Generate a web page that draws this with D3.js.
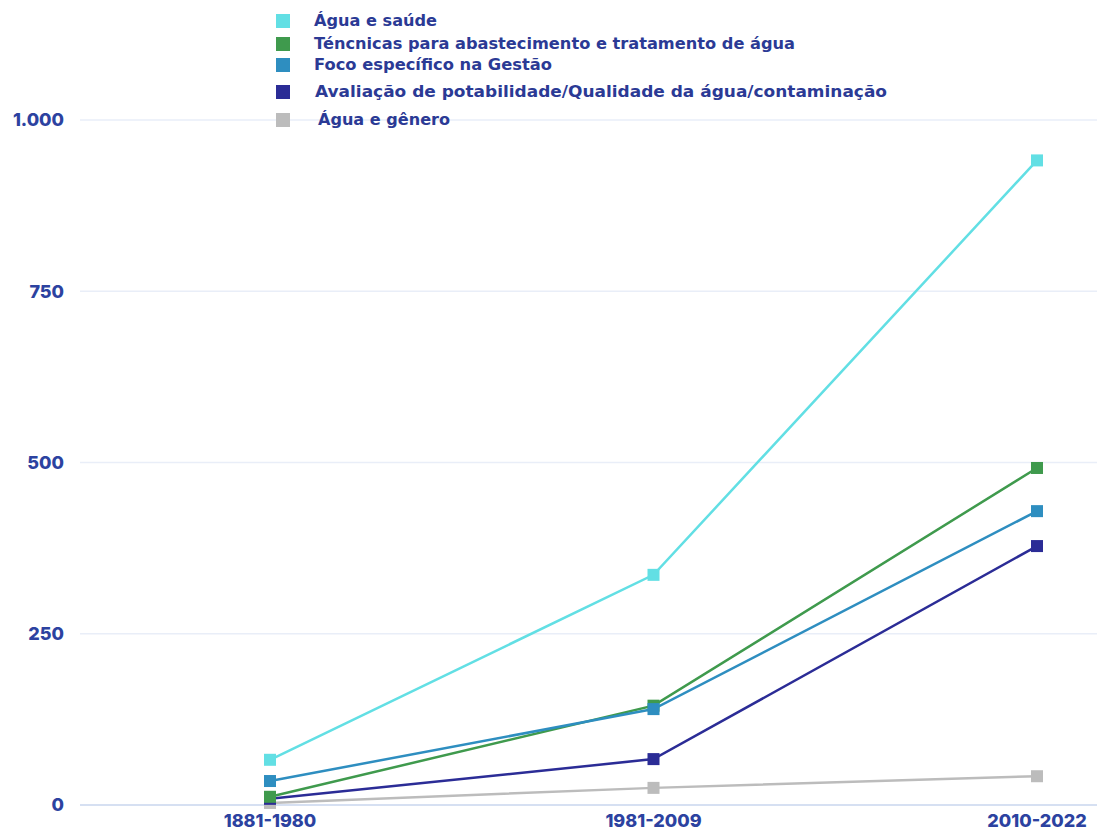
<!DOCTYPE html>
<html>
<head>
<meta charset="utf-8">
<script src="https://cdn.jsdelivr.net/npm/d3@7"></script>
<style>
  body { margin: 0; background: #fff; }
  svg { display: block; }
  .tick-label { font-family: Inter, "Open Sans", sans-serif; font-weight: 800; font-size: 18px; fill: #2c42a0; }
  .legend-label { font-family: "DejaVu Sans", sans-serif; font-weight: bold; font-size: 15px; fill: #2b3a95; }
</style>
</head>
<body>
<div id="chart"></div>
<script>
const width = 1097,
    height = 832;

// data
const periods = ["1881-1980", "1981-2009", "2010-2022"];
const seriesNames = [
    "Água e saúde",
    "Téncnicas para abastecimento e tratamento de água",
    "Foco específico na Gestão",
    "Avaliação de potabilidade/Qualidade da água/contaminação",
    "Água e gênero"
];
const aguaSaude = [66, 336, 941];
const tecnicas = [12, 145, 492];
const focoGestao = [35, 140, 429];
const avaliacao = [9, 67, 378];
const aguaGenero = [3, 25, 42];
const yTicks = [0, 250, 500, 750, 1000];
const yTickLabels = ["0", "250", "500", "750", "1.000"];

const colors = ["#62dfe4", "#3f9a4d", "#2e8ec0", "#2b2c96", "#bcbcbc"];

const series = [aguaSaude, tecnicas, focoGestao, avaliacao, aguaGenero].map((values, i) => ({
    name: seriesNames[i],
    color: colors[i],
    values: values.map((v, j) => ({ period: periods[j], value: v }))
}));

const svg = d3.select("#chart")
    .append("svg")
    .attr("width", width)
    .attr("height", height);

const x = d3.scalePoint().domain(periods).range([270, 1037]);
const y = d3.scaleLinear().domain([0, 1000]).range([805, 120]);

// grid lines
svg.append("g")
    .selectAll("line")
    .data(yTicks)
    .enter().append("line")
    .attr("x1", 80)
    .attr("x2", width)
    .attr("y1", d => y(d))
    .attr("y2", d => y(d))
    .attr("stroke", d => d === 0 ? "#d6e0f2" : "#e9eef8")
    .attr("stroke-width", d => d === 0 ? 2 : 1.5);

// y labels
svg.append("g")
    .selectAll("text")
    .data(yTicks)
    .enter().append("text")
    .attr("class", "tick-label")
    .attr("x", 64)
    .attr("y", d => y(d))
    .attr("dy", "0.35em")
    .attr("text-anchor", "end")
    .text((d, i) => yTickLabels[i]);

// x labels
svg.append("g")
    .selectAll("text")
    .data(periods)
    .enter().append("text")
    .attr("class", "tick-label")
    .attr("x", d => x(d))
    .attr("y", 827)
    .attr("text-anchor", "middle")
    .text(d => d);

const line = d3.line()
    .x(d => x(d.period))
    .y(d => y(d.value));

// draw bottom series first so cyan sits on top
const drawOrder = [4, 3, 1, 2, 0];
drawOrder.forEach(i => {
    const s = series[i];
    const g = svg.append("g");
    g.append("path")
        .datum(s.values)
        .attr("d", line)
        .attr("fill", "none")
        .attr("stroke", s.color)
        .attr("stroke-width", 2.5);
    g.selectAll("rect")
        .data(s.values)
        .enter().append("rect")
        .attr("x", d => x(d.period) - 6)
        .attr("y", d => y(d.value) - 6)
        .attr("width", 12)
        .attr("height", 12)
        .attr("fill", s.color);
});

// legend
const legendY = [21, 44, 65, 92, 120];
const legendTextX = [314, 314, 314, 315, 318];
const legendTextW = [123, 481, 238, 572, 132];
const legend = svg.append("g");
series.forEach((s, i) => {
    legend.append("rect")
        .attr("x", 276)
        .attr("y", legendY[i] - 7)
        .attr("width", 14)
        .attr("height", 14)
        .attr("fill", s.color);
    legend.append("text")
        .attr("class", "legend-label")
        .attr("x", legendTextX[i])
        .attr("y", legendY[i])
        .attr("dy", "0.35em")
        .attr("textLength", legendTextW[i])
        .attr("lengthAdjust", "spacingAndGlyphs")
        .text(s.name);
});
</script>
</body>
</html>
